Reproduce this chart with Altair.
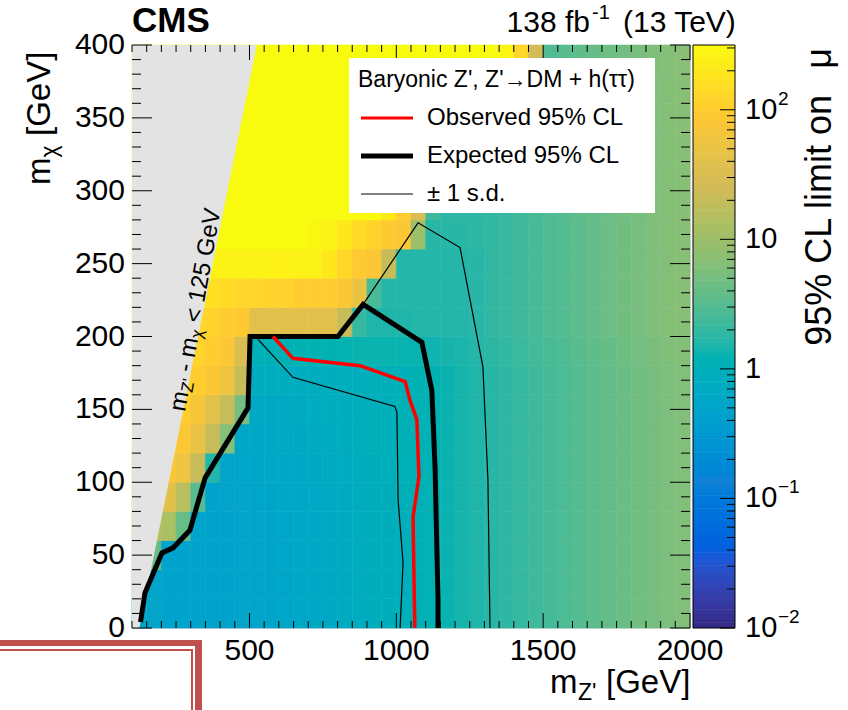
import altair as alt
import pandas as pd
import numpy as np

FONT = "Liberation Sans"
W, H = 558, 583          # plot area (px)

# ---------------- heat map: cell centres (GeV) and log10(limit on mu) ----------------
MZP = list(range(125, 2000, 50))     # 38 columns, 50 GeV wide
MCHI = list(range(10, 400, 20))      # 20 rows, 20 GeV high
LOGMU = [
    [-0.30,-0.32,-0.33,-0.34,-0.34,-0.34,-0.33,-0.32,-0.30,-0.28,-0.26,-0.24,-0.21,-0.18,-0.15,-0.12,-0.08,-0.05,-0.02,0.02,0.06,0.10,0.14,0.18,0.22,0.26,0.30,0.35,0.39,0.43,0.48,0.53,0.58,0.62,0.66,0.70,0.74,0.77],
    [0.50,-0.32,-0.33,-0.34,-0.34,-0.34,-0.33,-0.32,-0.30,-0.28,-0.26,-0.24,-0.21,-0.18,-0.15,-0.12,-0.08,-0.05,-0.02,0.02,0.06,0.10,0.14,0.18,0.22,0.26,0.30,0.35,0.39,0.43,0.48,0.53,0.58,0.62,0.66,0.70,0.74,0.77],
    [1.00,0.60,-0.33,-0.34,-0.34,-0.34,-0.33,-0.32,-0.30,-0.28,-0.26,-0.24,-0.21,-0.18,-0.15,-0.12,-0.08,-0.05,-0.02,0.02,0.06,0.10,0.14,0.18,0.22,0.26,0.30,0.35,0.39,0.43,0.48,0.53,0.58,0.62,0.66,0.70,0.74,0.77],
    [1.50,1.20,1.10,0.60,-0.33,-0.34,-0.33,-0.32,-0.30,-0.28,-0.26,-0.24,-0.21,-0.18,-0.15,-0.12,-0.08,-0.05,-0.02,0.02,0.06,0.10,0.14,0.18,0.22,0.26,0.30,0.35,0.39,0.43,0.48,0.53,0.58,0.62,0.66,0.70,0.74,0.77],
    [2.00,2.00,1.60,1.20,0.50,-0.33,-0.32,-0.31,-0.29,-0.27,-0.25,-0.23,-0.20,-0.17,-0.14,-0.11,-0.07,-0.04,-0.01,0.02,0.06,0.10,0.14,0.18,0.22,0.26,0.30,0.35,0.39,0.43,0.48,0.53,0.58,0.62,0.66,0.70,0.74,0.77],
    [2.20,2.10,1.90,1.75,1.30,0.20,-0.30,-0.29,-0.27,-0.25,-0.23,-0.21,-0.18,-0.15,-0.12,-0.09,-0.05,-0.02,0.00,0.03,0.06,0.10,0.14,0.18,0.22,0.26,0.30,0.35,0.39,0.43,0.48,0.53,0.58,0.62,0.66,0.70,0.74,0.77],
    [2.40,2.30,2.10,1.90,1.70,1.30,0.80,-0.26,-0.24,-0.22,-0.20,-0.18,-0.15,-0.12,-0.09,-0.06,-0.03,0.00,0.01,0.04,0.06,0.10,0.14,0.18,0.22,0.26,0.30,0.35,0.39,0.43,0.48,0.53,0.58,0.62,0.66,0.70,0.74,0.77],
    [2.50,2.40,2.20,2.00,1.85,1.60,1.30,0.70,-0.20,-0.18,-0.16,-0.14,-0.12,-0.10,-0.08,-0.06,-0.03,-0.01,0.01,0.04,0.06,0.10,0.14,0.18,0.22,0.26,0.30,0.35,0.39,0.43,0.48,0.53,0.58,0.62,0.66,0.70,0.74,0.77],
    [2.50,2.50,2.30,2.10,2.00,1.90,1.75,1.30,-0.12,-0.12,-0.10,-0.10,-0.08,-0.07,-0.06,-0.05,-0.03,-0.02,0.00,0.05,0.08,0.10,0.14,0.18,0.22,0.26,0.30,0.35,0.39,0.43,0.48,0.53,0.58,0.62,0.66,0.70,0.74,0.77],
    [2.50,2.50,2.40,2.20,2.05,2.00,1.90,1.50,0.00,0.02,0.05,0.06,0.07,0.08,0.09,0.10,0.10,0.10,0.10,0.10,0.12,0.14,0.16,0.20,0.24,0.28,0.32,0.37,0.41,0.45,0.50,0.55,0.60,0.64,0.68,0.72,0.76,0.79],
    [2.60,2.60,2.50,2.30,2.10,2.05,2.00,1.95,1.60,1.60,1.60,1.60,1.60,1.60,1.30,0.30,0.18,0.18,0.18,0.20,0.20,0.20,0.20,0.23,0.27,0.31,0.35,0.40,0.44,0.48,0.53,0.58,0.63,0.67,0.71,0.75,0.79,0.82],
    [2.60,2.60,2.60,2.50,2.40,2.20,2.15,2.10,2.10,2.05,2.05,2.00,2.00,2.00,1.90,1.70,0.40,0.20,0.20,0.20,0.20,0.20,0.20,0.23,0.27,0.31,0.35,0.40,0.44,0.48,0.53,0.58,0.63,0.67,0.71,0.75,0.79,0.82],
    [2.60,2.60,2.60,2.60,2.50,2.40,2.40,2.40,2.40,2.40,2.40,2.40,2.40,2.30,2.10,1.95,1.90,1.30,0.20,0.20,0.20,0.20,0.20,0.23,0.27,0.31,0.35,0.40,0.44,0.48,0.53,0.58,0.63,0.67,0.71,0.75,0.79,0.82],
    [2.60,2.60,2.60,2.60,2.60,2.60,2.55,2.55,2.55,2.50,2.50,2.50,2.45,2.40,2.30,2.15,2.05,1.95,1.90,1.00,0.22,0.22,0.22,0.24,0.27,0.31,0.35,0.40,0.44,0.48,0.53,0.58,0.63,0.67,0.71,0.75,0.79,0.82],
    [2.60,2.60,2.60,2.60,2.60,2.60,2.60,2.60,2.60,2.60,2.60,2.60,2.60,2.60,2.60,2.60,2.50,2.30,2.00,1.50,0.35,0.24,0.24,0.25,0.27,0.31,0.35,0.40,0.44,0.48,0.53,0.58,0.63,0.67,0.71,0.75,0.79,0.82],
    [2.60,2.60,2.60,2.60,2.60,2.60,2.60,2.60,2.60,2.60,2.60,2.60,2.60,2.60,2.60,2.60,2.60,2.60,2.40,2.00,1.00,0.25,0.25,0.26,0.27,0.31,0.35,0.40,0.44,0.48,0.53,0.58,0.63,0.67,0.71,0.75,0.79,0.82],
    [2.60,2.60,2.60,2.60,2.60,2.60,2.60,2.60,2.60,2.60,2.60,2.60,2.60,2.60,2.60,2.60,2.60,2.60,2.60,2.50,2.20,1.90,0.60,0.26,0.27,0.31,0.35,0.40,0.44,0.48,0.53,0.58,0.63,0.67,0.71,0.75,0.79,0.82],
    [2.60,2.60,2.60,2.60,2.60,2.60,2.60,2.60,2.60,2.60,2.60,2.60,2.60,2.60,2.60,2.60,2.60,2.60,2.60,2.60,2.50,2.30,2.00,1.20,0.27,0.31,0.35,0.40,0.44,0.48,0.53,0.58,0.63,0.67,0.71,0.75,0.79,0.82],
    [2.60,2.60,2.60,2.60,2.60,2.60,2.60,2.60,2.60,2.60,2.60,2.60,2.60,2.60,2.60,2.60,2.60,2.60,2.60,2.60,2.60,2.50,2.40,2.10,1.80,0.35,0.35,0.40,0.44,0.48,0.53,0.58,0.63,0.67,0.71,0.75,0.79,0.82],
    [2.60,2.60,2.60,2.60,2.60,2.60,2.60,2.60,2.60,2.60,2.60,2.60,2.60,2.60,2.60,2.60,2.60,2.60,2.60,2.60,2.60,2.60,2.60,2.60,2.60,2.45,2.10,1.40,0.45,0.50,0.54,0.59,0.64,0.68,0.72,0.76,0.80,0.83],
]

# ---------------- contours (GeV) ----------------
OBS_X = [580, 648, 876, 1030, 1047, 1070, 1077, 1057, 1063]
OBS_Y = [200, 185, 180, 169, 156, 143, 104, 76, 0]
EXP_X = [129, 144, 202, 240, 297, 349, 495, 502, 801, 887, 1087, 1121, 1132, 1142, 1142]
EXP_Y = [4, 24, 51.5, 55, 67, 103, 151, 200, 200, 222, 196, 163, 110, 19, 0]
SDM_X = [529, 648, 995, 1002, 1006, 1023, 1013]
SDM_Y = [198, 172, 152, 148, 88, 45, 0]
SDP_X = [887, 1074, 1217, 1295, 1312, 1319]
SDP_Y = [222, 278, 261, 179, 101, 0]

# excluded region m_Z' - m_chi < 125 GeV
HATCH_X = [100, 125, 525]
HATCH_LO = [0, 0, 400]
HATCH_HI = [400, 400, 400]

# ---------------- ticks & labels ----------------
X_MAJOR = [500, 1000, 1500, 2000]
X_LABELS = ["500", "1000", "1500", "2000"]
X_MINOR = [v for v in range(100, 2001, 50) if v not in X_MAJOR]
Y_MAJOR = [0, 50, 100, 150, 200, 250, 300, 350, 400]
Y_LABELS = ["0", "50", "100", "150", "200", "250", "300", "350", "400"]
Y_MINOR = [v for v in range(0, 401, 10) if v not in Y_MAJOR]
CB_MAJOR = [0.01, 0.1, 1, 10, 100]
CB_BASE = ["10", "10", "1", "10", "10"]
CB_EXP = ["\u22122", "\u22121", "", "", "2"]
CB_MINOR = [0.02, 0.03, 0.04, 0.05, 0.06, 0.07, 0.08, 0.09,
            0.2, 0.3, 0.4, 0.5, 0.6, 0.7, 0.8, 0.9,
            2, 3, 4, 5, 6, 7, 8, 9,
            20, 30, 40, 50, 60, 70, 80, 90, 200, 300]

# ROOT kBird palette
KBIRD = ["#352a87", "#0f5cdd", "#1481d6", "#06a4ca", "#2eb7a4",
         "#87bf77", "#d1bb59", "#fec832", "#f9fb0e"]
LV_DOMAIN = [-2.0, -1.4375, -0.875, -0.3125, 0.25, 0.8125, 1.375, 1.9375, 2.5]

# ---------------- build ----------------
cells = []
for j, yc in enumerate(MCHI):
    for i, xc in enumerate(MZP):
        cells.append(dict(x0=xc - 25, x1=xc + 25, y0=yc - 10, y1=yc + 10, lv=LOGMU[j][i]))
heat_df = pd.DataFrame(cells)

cscale = alt.Scale(domain=LV_DOMAIN, range=KBIRD, clamp=True)
xs = alt.Scale(domain=[100, 2000], nice=False, zero=False)
ys = alt.Scale(domain=[0, 400], nice=False, zero=False)
cbs = alt.Scale(domain=[-2, 2.5], nice=False, zero=False)

one = pd.DataFrame({"a": [0]})

heat = alt.Chart(heat_df).mark_rect(strokeWidth=0.6).encode(
    x=alt.X("x0:Q", scale=xs, axis=None),
    x2="x1:Q",
    y=alt.Y("y0:Q", scale=ys, axis=None),
    y2="y1:Q",
    color=alt.Color("lv:Q", scale=cscale, legend=None),
    stroke=alt.Stroke("lv:Q", scale=cscale, legend=None),
)

hatch = alt.Chart(pd.DataFrame({"x": HATCH_X, "lo": HATCH_LO, "hi": HATCH_HI})).mark_area(
    color="#e3e3e3").encode(
    x=alt.X("x:Q", scale=xs, axis=None),
    y=alt.Y("hi:Q", scale=ys, axis=None),
    y2="lo:Q",
)


def contour(xv, yv, color, w):
    df = pd.DataFrame({"x": xv, "y": yv, "k": list(range(len(xv)))})
    return alt.Chart(df).mark_line(color=color, strokeWidth=w).encode(
        x=alt.X("x:Q", scale=xs, axis=None),
        y=alt.Y("y:Q", scale=ys, axis=None),
        order="k:Q",
    )


def xticks(vals, length):
    df = pd.DataFrame({"t": vals})
    bot = alt.Chart(df).mark_rule(color="black", strokeWidth=1).encode(
        x=alt.X("t:Q", scale=xs, axis=None), y=alt.value(H), y2=alt.value(H - length))
    top = alt.Chart(df).mark_rule(color="black", strokeWidth=1).encode(
        x=alt.X("t:Q", scale=xs, axis=None), y=alt.value(0), y2=alt.value(length))
    return [bot, top]


def yticks(vals, length):
    df = pd.DataFrame({"t": vals})
    left = alt.Chart(df).mark_rule(color="black", strokeWidth=1).encode(
        y=alt.Y("t:Q", scale=ys, axis=None), x=alt.value(0), x2=alt.value(length))
    right = alt.Chart(df).mark_rule(color="black", strokeWidth=1).encode(
        y=alt.Y("t:Q", scale=ys, axis=None), x=alt.value(W), x2=alt.value(W - length))
    return [left, right]


def txt(text, x, y, size, **kw):
    return alt.Chart(one).mark_text(text=text, fontSize=size, font=FONT, color="black", **kw).encode(
        x=alt.value(x), y=alt.value(y))


def rule(x, x2, y, y2, color, w):
    return alt.Chart(one).mark_rule(color=color, strokeWidth=w).encode(
        x=alt.value(x), x2=alt.value(x2), y=alt.value(y), y2=alt.value(y2))


# tick labels drawn through the scales
x_labels = alt.Chart(pd.DataFrame({"t": X_MAJOR, "l": X_LABELS})).mark_text(
    fontSize=30, font=FONT, color="black", align="center", baseline="top").encode(
    x=alt.X("t:Q", scale=xs, axis=None), y=alt.value(H + 8), text="l:N")
y_labels = alt.Chart(pd.DataFrame({"t": Y_MAJOR, "l": Y_LABELS})).mark_text(
    fontSize=30, font=FONT, color="black", align="right", baseline="middle").encode(
    y=alt.Y("t:Q", scale=ys, axis=None), x=alt.value(-7), text="l:N")

# rotated label along the excluded-region edge
ANG = 280
AX, AY = 46, 366
hatch_label = [
    txt("m", AX, AY, 24, angle=ANG, align="left", baseline="middle", dx=0),
    txt("Z'", AX, AY, 17, angle=ANG, align="left", baseline="middle", dx=20, dy=6),
    txt("- m", AX, AY, 24, angle=ANG, align="left", baseline="middle", dx=40),
    txt("\u03c7", AX, AY, 17, angle=ANG, align="left", baseline="middle", dx=74.7, dy=6),
    txt("< 125 GeV", AX, AY, 24, angle=ANG, align="left", baseline="middle", dx=90),
]

# legend box
legend = [
    alt.Chart(one).mark_rect(color="white").encode(
        x=alt.value(217), x2=alt.value(523), y=alt.value(13), y2=alt.value(168)),
    txt("Baryonic Z', Z'\u2192DM + h(\u03c4\u03c4)", 226, 35, 23, align="left", baseline="middle"),
    rule(229, 281, 73, 73, "#ff0000", 3),
    rule(229, 281, 111, 111, "black", 5),
    rule(229, 281, 149, 149, "black", 1.2),
    txt("Observed 95% CL", 295, 73, 24, align="left", baseline="middle"),
    txt("Expected 95% CL", 295, 111, 24, align="left", baseline="middle"),
    txt("\u00b1 1 s.d.", 295, 149, 24, align="left", baseline="middle"),
]

titles = [
    txt("CMS", 0, -13, 35, fontWeight="bold", align="left", baseline="alphabetic"),
    txt("138 fb", 458, -13, 30, align="right", baseline="alphabetic"),
    txt("-1", 460, -26, 20, align="left", baseline="alphabetic"),
    txt("(13 TeV)", 491, -13, 30, align="left", baseline="alphabetic"),
    # x title
    txt("m", 418, 648, 33, align="left", baseline="alphabetic"),
    txt("Z'", 446, 655, 23, align="left", baseline="alphabetic"),
    txt("[GeV]", 474, 648, 33, align="left", baseline="alphabetic"),
    # y title
    txt("m", -82, 140, 33, angle=270, align="left", baseline="alphabetic", dx=0),
    txt("\u03c7", -82, 140, 23, angle=270, align="left", baseline="alphabetic", dx=27.5, dy=7),
    txt("[GeV]", -82, 140, 33, angle=270, align="left", baseline="alphabetic", dx=49),
    # colour-bar title
    txt("95% CL limit on", 688, 50, 36, angle=270, align="right", baseline="middle"),
    txt("\u03bc", 688, 3, 36, angle=270, align="right", baseline="middle"),
]

# decoration frame at the lower left of the picture
deco = [
    rule(-132, 70, 598, 598, "#c0504d", 6),
    rule(-132, 61, 605, 605, "#c0504d", 2),
    rule(66.5, 66.5, 595, 665, "#c0504d", 7),
    rule(60, 60, 605, 665, "#c0504d", 2),
]

main = alt.layer(
    heat, hatch,
    contour(SDP_X, SDP_Y, "black", 1.2),
    contour(SDM_X, SDM_Y, "black", 1.2),
    contour(EXP_X, EXP_Y, "black", 5),
    contour(OBS_X, OBS_Y, "#ff0000", 3.5),
    *xticks(X_MINOR, 7), *xticks(X_MAJOR, 15),
    *yticks(Y_MINOR, 9), *yticks(Y_MAJOR, 20),
    x_labels, y_labels,
    *hatch_label, *legend, *titles, *deco,
)

# ---------------- colour bar ----------------
CBX0, CBX1 = 561, 603
cb_rects = alt.Chart(alt.sequence(start=-2, stop=2.5, step=0.02, as_="v")).transform_calculate(
    v2="min(datum.v + 0.025, 2.5)").mark_rect().encode(
    x=alt.value(CBX0), x2=alt.value(CBX1),
    y=alt.Y("v:Q", scale=cbs, axis=None), y2="v2:Q",
    color=alt.Color("v:Q", scale=cscale, legend=None),
)
cb_frame = alt.Chart(one).mark_rect(fillOpacity=0, stroke="black", strokeWidth=1).encode(
    x=alt.value(CBX0), x2=alt.value(CBX1), y=alt.value(0), y2=alt.value(H))
cb_major_df = pd.DataFrame({"t": np.log10(CB_MAJOR), "base": CB_BASE, "exp": CB_EXP})
cb_minor_df = pd.DataFrame({"t": np.log10(CB_MINOR)})
cb_major = alt.Chart(cb_major_df).mark_rule(color="black", strokeWidth=1).encode(
    y=alt.Y("t:Q", scale=cbs, axis=None), x=alt.value(CBX1), x2=alt.value(CBX1 - 15))
cb_minor = alt.Chart(cb_minor_df).mark_rule(color="black", strokeWidth=1).encode(
    y=alt.Y("t:Q", scale=cbs, axis=None), x=alt.value(CBX1), x2=alt.value(CBX1 - 8))
cb_lab = alt.Chart(cb_major_df).mark_text(fontSize=29, font=FONT, color="black", align="left",
                                          baseline="middle").encode(
    y=alt.Y("t:Q", scale=cbs, axis=None), x=alt.value(613), text="base:N")
cb_exp = alt.Chart(cb_major_df).mark_text(fontSize=19, font=FONT, color="black", align="left",
                                          baseline="middle", dy=-11).encode(
    y=alt.Y("t:Q", scale=cbs, axis=None), x=alt.value(646), text="exp:N")

cbar = alt.layer(cb_rects, cb_frame, cb_major, cb_minor, cb_lab, cb_exp)

chart = alt.layer(main, cbar).resolve_scale(y="independent").properties(
    width=W, height=H,
    padding={"left": 132, "top": 45, "right": 158, "bottom": 82},
    autosize=alt.AutoSizeParams(type="none"),
).configure_view(stroke="black", strokeWidth=1).configure(font=FONT)

chart.save("out.html", embed_options={"renderer": "svg", "actions": False})
